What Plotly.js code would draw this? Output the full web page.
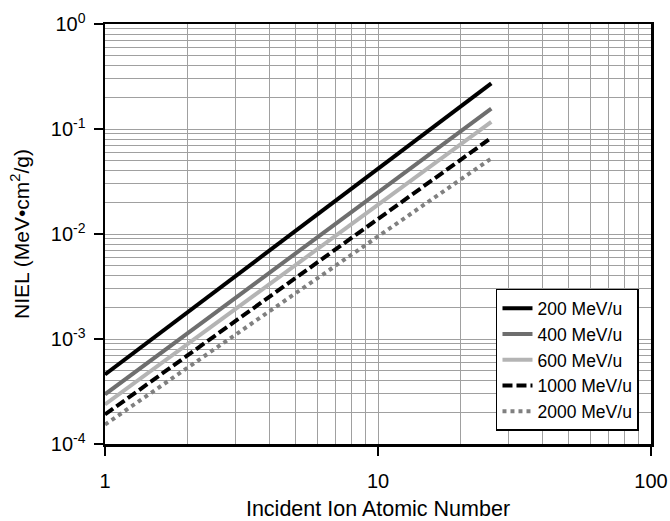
<!DOCTYPE html>
<html>
<head>
<meta charset="utf-8">
<script src="https://cdn.plot.ly/plotly-3.0.1.min.js"></script>
<style>
html, body { margin: 0; padding: 0; background: #fff; }
#chart { width: 670px; height: 521px; }
</style>
</head>
<body>
<div id="chart"></div>
<script>
// Incident ion atomic number (endpoints of each line)
var atomicNumber = [1, 26];

// NIEL values (MeV·cm²/g)
var niel200 = [4.6e-4, 0.272];
var niel400 = [2.97e-4, 0.156];
var niel600 = [2.38e-4, 0.117];
var niel1000 = [1.91e-4, 0.0824];
var niel2000 = [1.53e-4, 0.0525];

var seriesNames = ['200 MeV/u', '400 MeV/u', '600 MeV/u', '1000 MeV/u', '2000 MeV/u'];

var yTickVals = [1e-4, 1e-3, 1e-2, 1e-1, 1];
var yTickText = ['10<sup>-4</sup>', '10<sup>-3</sup>', '10<sup>-2</sup>', '10<sup>-1</sup>', '10<sup>0</sup>'];
var xTickVals = [1, 10, 100];
var xTickText = ['1', '10', '100'];

function minorVals(lo, hi) {
  var v = [];
  for (var d = lo; d < hi; d++) {
    for (var k = 2; k <= 9; k++) v.push(k * Math.pow(10, d));
  }
  return v;
}

var styles = [
  {color: '#000000', width: 4, dash: 'solid'},
  {color: '#6e6e6e', width: 4, dash: 'solid'},
  {color: '#b4b4b4', width: 4, dash: 'solid'},
  {color: '#000000', width: 4, dash: '10px,4px'},
  {color: '#808080', width: 4, dash: '4px,4px'}
];
var seriesVals = [niel200, niel400, niel600, niel1000, niel2000];

var traces = seriesVals.map(function (vals, i) {
  return {
    x: atomicNumber,
    y: vals,
    type: 'scatter',
    mode: 'lines',
    name: seriesNames[i],
    line: styles[i]
  };
});

var gridColor = '#a0a0a0';
var font = {family: '"Liberation Sans", Arial, sans-serif', color: '#000'};

var layout = {
  width: 670,
  height: 521,
  margin: {l: 105, r: 19, t: 24, b: 77},
  paper_bgcolor: '#fff',
  plot_bgcolor: '#fff',
  font: font,
  showlegend: true,
  legend: {
    x: 0.978, y: 0.031, xanchor: 'right', yanchor: 'bottom',
    bgcolor: '#fff', bordercolor: '#000', borderwidth: 1.5,
    font: {family: font.family, size: 17.5, color: '#000'},
    itemwidth: 30,
    tracegroupgap: 0
  },
  xaxis: {
    type: 'log',
    range: [0, 2],
    tickmode: 'array', tickvals: xTickVals, ticktext: xTickText,
    ticks: 'outside', ticklen: 9, tickwidth: 2, tickcolor: '#000',
    showline: true, linecolor: '#000', linewidth: 2.5, mirror: true,
    showgrid: true, gridcolor: gridColor, gridwidth: 1,
    zeroline: false,
    tickfont: {family: font.family, size: 20, color: '#000'},
    ticklabelstandoff: 8,
    minor: {tickmode: 'array', tickvals: minorVals(0, 2), showgrid: true, gridcolor: gridColor, gridwidth: 1, ticks: ''},
    title: {text: 'Incident Ion Atomic Number', font: {family: font.family, size: 21.5, color: '#000'}, standoff: 14}
  },
  yaxis: {
    type: 'log',
    range: [-4, 0],
    tickmode: 'array', tickvals: yTickVals, ticktext: yTickText,
    ticks: 'outside', ticklen: 9, tickwidth: 2, tickcolor: '#000',
    showline: true, linecolor: '#000', linewidth: 2.5, mirror: true,
    showgrid: true, gridcolor: gridColor, gridwidth: 1,
    zeroline: false,
    tickfont: {family: font.family, size: 20, color: '#000'},
    ticklabelstandoff: 4,
    minor: {tickmode: 'array', tickvals: minorVals(-4, 0), showgrid: true, gridcolor: gridColor, gridwidth: 1, ticks: ''},
    title: {text: 'NIEL (MeV•cm<sup>2</sup>/g)', font: {family: font.family, size: 21, color: '#000'}, standoff: 16}
  }
};

Plotly.newPlot('chart', traces, layout, {displayModeBar: false, staticPlot: true});
</script>
</body>
</html>
